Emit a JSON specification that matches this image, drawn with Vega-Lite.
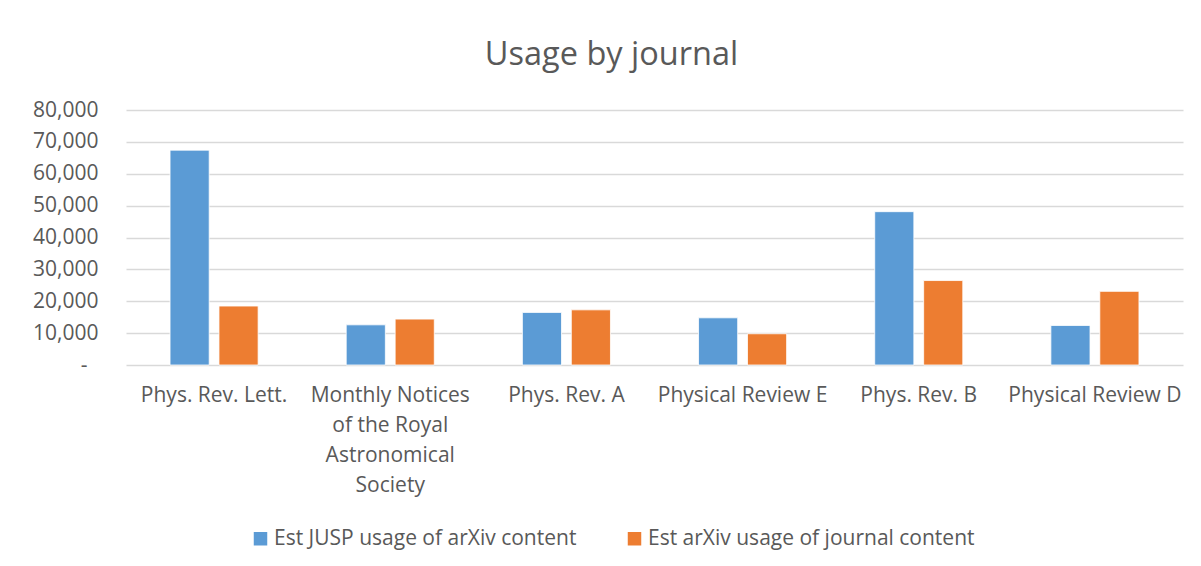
{
  "$schema": "https://vega.github.io/schema/vega-lite/v6.json",
  "width": 1057,
  "height": 255,
  "autosize": {"type": "none"},
  "padding": {"left": 126, "top": 110, "right": 18, "bottom": 201},
  "background": "white",
  "title": {
    "text": "Usage by journal",
    "anchor": "middle",
    "dx": -43,
    "offset": -5,
    "baseline": "bottom",
    "fontSize": 32.5,
    "font": "Open Sans",
    "fontWeight": "normal",
    "color": "#595959"
  },
  "data": {
    "values": [
      {"journal": "Phys. Rev. Lett.", "series": "Est JUSP usage of arXiv content", "value": 67400},
      {"journal": "Phys. Rev. Lett.", "series": "Est arXiv usage of journal content", "value": 18500},
      {"journal": "Monthly Notices of the Royal Astronomical Society", "series": "Est JUSP usage of arXiv content", "value": 12600},
      {"journal": "Monthly Notices of the Royal Astronomical Society", "series": "Est arXiv usage of journal content", "value": 14400},
      {"journal": "Phys. Rev. A", "series": "Est JUSP usage of arXiv content", "value": 16500},
      {"journal": "Phys. Rev. A", "series": "Est arXiv usage of journal content", "value": 17300},
      {"journal": "Physical Review E", "series": "Est JUSP usage of arXiv content", "value": 14800},
      {"journal": "Physical Review E", "series": "Est arXiv usage of journal content", "value": 9800},
      {"journal": "Phys. Rev. B", "series": "Est JUSP usage of arXiv content", "value": 48100},
      {"journal": "Phys. Rev. B", "series": "Est arXiv usage of journal content", "value": 26500},
      {"journal": "Physical Review D", "series": "Est JUSP usage of arXiv content", "value": 12400},
      {"journal": "Physical Review D", "series": "Est arXiv usage of journal content", "value": 23100}
    ]
  },
  "mark": {"type": "bar", "stroke": "white", "strokeWidth": 0.8},
  "encoding": {
    "x": {
      "field": "journal",
      "type": "nominal",
      "sort": null,
      "scale": {"paddingInner": 0.5, "paddingOuter": 0.25},
      "axis": {
        "title": null,
        "labelAngle": 0,
        "ticks": false,
        "domain": false,
        "labelPadding": 19,
        "labelBaseline": "top",
        "labelFont": "Open Sans",
        "labelFontSize": 21,
        "labelColor": "#595959",
        "labelLineHeight": 30,
        "labelLimit": 300,
        "labelOverlap": false,
        "labelExpr": "datum.value == 'Monthly Notices of the Royal Astronomical Society' ? ['Monthly Notices', 'of the Royal', 'Astronomical', 'Society'] : datum.value"
      }
    },
    "xOffset": {
      "field": "series",
      "type": "nominal",
      "sort": null,
      "scale": {"paddingInner": 0.2, "paddingOuter": 0}
    },
    "y": {
      "field": "value",
      "type": "quantitative",
      "scale": {"domain": [0, 80000], "nice": false},
      "axis": {
        "title": null,
        "values": [0, 10000, 20000, 30000, 40000, 50000, 60000, 70000, 80000],
        "ticks": false,
        "domain": false,
        "grid": true,
        "gridColor": "#D9D9D9",
        "gridWidth": 1.3,
        "labelPadding": {"condition": {"test": "datum.value == 0", "value": 39}, "value": 28},
        "labelOverlap": false,
        "labelFont": "Open Sans",
        "labelFontSize": 21,
        "labelColor": "#595959",
        "labelExpr": "datum.value == 0 ? '-' : format(datum.value, ',')"
      }
    },
    "color": {
      "field": "series",
      "type": "nominal",
      "sort": null,
      "scale": {"range": ["#5B9BD5", "#ED7D31"]},
      "legend": {
        "title": null,
        "orient": "none",
        "direction": "horizontal",
        "legendX": 124,
        "legendY": 418,
        "symbolType": "square",
        "symbolSize": 182,
        "symbolStrokeWidth": 0,
        "labelFont": "Open Sans",
        "labelFontSize": 21,
        "labelColor": "#595959",
        "labelLimit": 400,
        "columnPadding": 47,
        "labelOffset": 3
      }
    }
  },
  "config": {"view": {"stroke": null}}
}
